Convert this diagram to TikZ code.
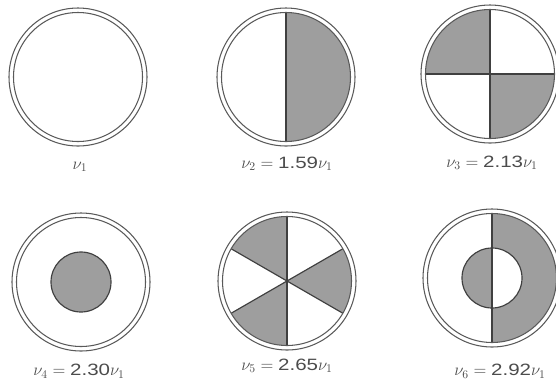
\documentclass[tikz,border=0pt]{standalone}
\usepackage{amsmath}
\usepackage{fontspec}
\newfontfamily\numfont[FakeStretch=1.25]{Liberation Sans}
\newcommand{\nval}[1]{\text{\numfont #1}}
\usetikzlibrary{positioning}

\begin{document}
\begin{tikzpicture}[x=0.03cm, y=0.03cm,
      ring/.style={draw=black!65, line width=0.9pt},
      shade/.style={fill=black!38},
      edge/.style={draw=black!75, line width=1pt},
      lbl/.style={font=\fontsize{14}{16}\selectfont, text=black!70}]

    \def\Ro{69}    % outer ring radius
    \def\Ri{64.5}  % inner ring radius
    \def\rc{30}    % central disc radius

    \useasboundingbox (0,0) rectangle (556,-380);

    % Mode 1: plain
    \begin{scope}[shift={(78,-77)}]
      \draw[ring] (0,0) circle (\Ro) (0,0) circle (\Ri);
    \end{scope}
    \node[lbl] (m1) at (80,-167) {$\nu_1$};

    % Mode 2: two halves
    \begin{scope}[shift={(286,-77)}]
      \fill[shade] (90:\Ri) arc (90:-90:\Ri) -- cycle;
      \draw[edge] (0,\Ri) -- (0,-\Ri);
      \draw[ring] (0,0) circle (\Ro) (0,0) circle (\Ri);
    \end{scope}
    \node[lbl] (m2) at (287,-164) {$\nu_2 = \nval{1.59}\nu_1$};

    % Mode 3: four quadrants
    \begin{scope}[shift={(490,-74)}]
      \fill[shade] (0,0) -- (90:\Ri) arc (90:180:\Ri) -- cycle;
      \fill[shade] (0,0) -- (-90:\Ri) arc (-90:0:\Ri) -- cycle;
      \draw[edge] (-\Ri,0) -- (\Ri,0) (0,-\Ri) -- (0,\Ri);
      \draw[ring] (0,0) circle (\Ro) (0,0) circle (\Ri);
    \end{scope}
    \node[lbl] (m3) at (492,-163) {$\nu_3 = \nval{2.13}\nu_1$};

    % Mode 4: central disc
    \begin{scope}[shift={(81,-282)}]
      \filldraw[shade, edge] (0,0) circle (\rc);
      \draw[ring] (0,0) circle (\Ro) (0,0) circle (\Ri);
    \end{scope}
    \node[lbl] (m4) at (79,-371) {$\nu_4 = \nval{2.30}\nu_1$};

    % Mode 5: six sectors
    \begin{scope}[shift={(287,-281)}]
      \foreach \a in {90,210,330}
        \fill[shade] (0,0) -- (\a:\Ri) arc (\a:\a+60:\Ri) -- cycle;
      \foreach \a in {30,90,150}
        \draw[edge] (\a:\Ri) -- (\a+180:\Ri);
      \draw[ring] (0,0) circle (\Ro) (0,0) circle (\Ri);
    \end{scope}
    \node[lbl] (m5) at (287,-366) {$\nu_5 = \nval{2.65}\nu_1$};

    % Mode 6: halves with central disc
    \begin{scope}[shift={(492,-278)}]
      \fill[shade] (90:\Ri) arc (90:-90:\Ri) -- cycle;
      \fill[white] (0,0) circle (\rc);
      \fill[shade] (90:\rc) arc (90:270:\rc) -- cycle;
      \draw[edge] (0,0) circle (\rc);
      \draw[edge] (0,\Ri) -- (0,-\Ri);
      \draw[ring] (0,0) circle (\Ro) (0,0) circle (\Ri);
    \end{scope}
    \node[lbl] (m6) at (500,-371) {$\nu_6 = \nval{2.92}\nu_1$};

\end{tikzpicture}
\end{document}
